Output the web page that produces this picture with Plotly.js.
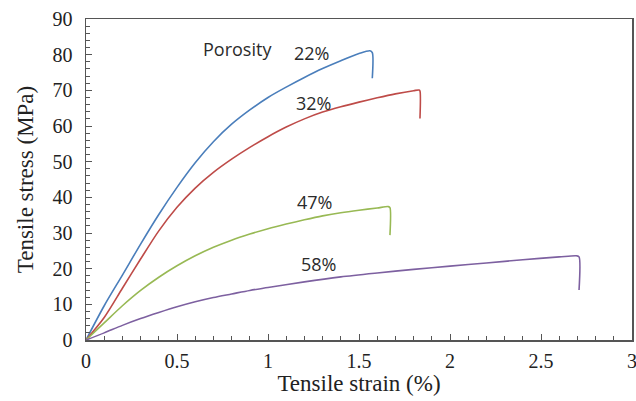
<!DOCTYPE html>
<html>
<head>
<meta charset="utf-8">
<script src="https://cdn.plot.ly/plotly-3.0.1.min.js"></script>
<style>html,body{margin:0;padding:0;background:#fff;}#chart{width:636px;height:401px;}</style>
</head>
<body>
<div id="chart"></div>
<script>
// Tensile strain (%) and tensile stress (MPa) for each porosity
var strain22 = [0, 0.1, 0.2, 0.3, 0.4, 0.5, 0.6, 0.7, 0.8, 0.9, 1.0, 1.1, 1.2, 1.3, 1.4, 1.5, 1.56, 1.573, 1.573];
var stress22 = [0, 9.6, 18.2, 26.9, 35.2, 42.8, 49.7, 55.6, 60.5, 64.5, 68.0, 70.9, 73.6, 76.1, 78.3, 80.3, 81.1, 80.6, 73.4];

var strain32 = [0, 0.1, 0.2, 0.3, 0.4, 0.5, 0.6, 0.7, 0.8, 0.9, 1.0, 1.1, 1.2, 1.3, 1.4, 1.5, 1.6, 1.7, 1.8, 1.83, 1.835, 1.835];
var stress32 = [0, 6.3, 14.5, 22.7, 30.6, 37.2, 42.6, 47.0, 50.7, 54.0, 57.0, 59.7, 62.0, 63.9, 65.4, 66.7, 67.9, 69.0, 69.9, 70.1, 69.8, 62.1];

var strain47 = [0, 0.1, 0.2, 0.3, 0.4, 0.5, 0.6, 0.7, 0.8, 0.9, 1.0, 1.1, 1.2, 1.3, 1.4, 1.5, 1.6, 1.661, 1.670, 1.670];
var stress47 = [0, 4.8, 9.6, 13.9, 17.6, 20.8, 23.6, 26.0, 28.0, 29.7, 31.2, 32.5, 33.7, 34.8, 35.7, 36.4, 37.0, 37.4, 37.1, 29.4];

var strain58 = [0, 0.1, 0.2, 0.3, 0.4, 0.5, 0.6, 0.7, 0.8, 0.9, 1.0, 1.2, 1.4, 1.6, 1.8, 2.0, 2.2, 2.4, 2.6, 2.696, 2.709, 2.709];
var stress58 = [0, 2.0, 4.1, 6.0, 7.7, 9.3, 10.7, 11.9, 12.9, 13.9, 14.7, 16.3, 17.7, 18.8, 19.8, 20.7, 21.6, 22.5, 23.3, 23.6, 23.3, 14.0];

var porosityLabels = ['22%', '32%', '47%', '58%'];
var labelX = [1.24, 1.249, 1.258, 1.277];
var labelY = [80.4, 66.4, 38.8, 21.3];
var colors = ['#4a7ebb', '#be4b48', '#98b954', '#7d60a0'];

var series = [[strain22, stress22], [strain32, stress32], [strain47, stress47], [strain58, stress58]];
var traces = series.map(function (s, i) {
  return {x: s[0], y: s[1], type: 'scatter', mode: 'lines',
          line: {color: colors[i], width: 1.6, shape: 'spline', smoothing: 0.8},
          hoverinfo: 'skip', showlegend: false};
});

var annFont = {family: 'Open Sans', size: 18, color: '#2b2b2b'};
var annotations = porosityLabels.map(function (t, i) {
  return {x: labelX[i], y: labelY[i], xref: 'x', yref: 'y', text: t, showarrow: false, font: annFont};
});
annotations.push({x: 0.835, y: 81.6, xref: 'x', yref: 'y', text: 'Porosity', showarrow: false, font: annFont});

var tickFont = {family: 'Liberation Serif, serif', size: 20, color: '#222'};
var titleFont = {family: 'Liberation Serif, serif', size: 23, color: '#222'};

var layout = {
  width: 636, height: 401,
  margin: {l: 86, r: 4, t: 19, b: 61},
  paper_bgcolor: '#fff', plot_bgcolor: '#fff',
  showlegend: false,
  xaxis: {range: [0, 3], dtick: 0.5, tick0: 0, showgrid: false, zeroline: false,
          showline: true, linecolor: '#555', linewidth: 1.5, mirror: true,
          ticks: 'inside', ticklen: 6, tickcolor: '#555', tickwidth: 1,
          minor: {dtick: 0.1, ticks: 'inside', ticklen: 4, tickcolor: '#555', showgrid: false},
          tickfont: tickFont, ticklabeloverflow: 'allow', ticklabelstandoff: 2,
          title: {text: 'Tensile strain (%)', font: titleFont, standoff: 4}},
  yaxis: {range: [0, 90], dtick: 10, tick0: 0, showgrid: false, zeroline: false,
          showline: true, linecolor: '#555', linewidth: 1.5, mirror: true,
          ticks: 'inside', ticklen: 6, tickcolor: '#555', tickwidth: 1,
          minor: {dtick: 2, ticks: 'inside', ticklen: 4, tickcolor: '#555', showgrid: false},
          tickfont: tickFont, ticklabeloverflow: 'allow', ticklabelstandoff: 8,
          title: {text: 'Tensile stress (MPa)', font: titleFont, standoff: 12}},
  annotations: annotations
};

Plotly.newPlot('chart', traces, layout, {staticPlot: true, displayModeBar: false});
</script>
</body>
</html>
